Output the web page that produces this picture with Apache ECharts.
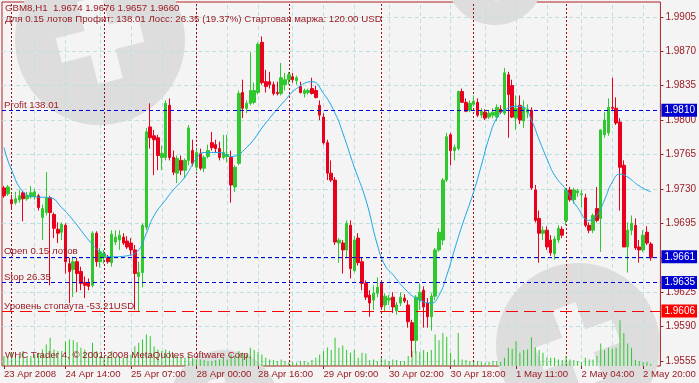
<!DOCTYPE html>
<html><head><meta charset="utf-8">
<script src="https://cdn.jsdelivr.net/npm/echarts@6/dist/echarts.min.js"></script>
<style>html,body{margin:0;padding:0;background:#f4f4f4}#c{width:699px;height:383px}</style>
</head><body><div id="c"></div><script>
// ---- data (GBM8, H1) ----
const opens = [1.9731,1.9725,1.9719,1.9716,1.9719,1.9726,1.9720,1.9722,1.9722,1.9723,
1.9701,1.9706,1.9721,1.9704,1.9689,1.9686,1.9693,1.9654,1.9648,1.9656,
1.9646,1.9635,1.9634,1.9632,1.9685,1.9656,1.9660,1.9660,1.9655,1.9676,
1.9678,1.9681,1.9677,1.9675,1.9668,1.9641,1.9645,1.9691,1.9793,1.9784,
1.9782,1.9762,1.9762,1.9815,1.9762,1.9746,1.9759,1.9749,1.9759,1.9769,
1.9752,1.9766,1.9751,1.9763,1.9777,1.9775,1.9771,1.9762,1.9763,1.9762,
1.9732,1.9756,1.9828,1.9812,1.9817,1.9818,1.9828,1.9879,1.9839,1.9839,
1.9836,1.9828,1.9827,1.9836,1.9841,1.9844,1.9840,1.9834,1.9827,1.9828,
1.9832,1.9830,1.9815,1.9803,1.9777,1.9746,1.9739,1.9675,1.9675,1.9668,
1.9693,1.9647,1.9680,1.9656,1.9634,1.9622,1.9617,1.9624,1.9634,1.9612,
1.9617,1.9620,1.9606,1.9614,1.9619,1.9612,1.9594,1.9576,1.9617,1.9627,
1.9614,1.9600,1.9621,1.9668,1.9678,1.9739,1.9785,1.9769,1.9771,1.9829,
1.9818,1.9810,1.9816,1.9818,1.9805,1.9808,1.9803,1.9805,1.9803,1.9811,
1.9807,1.9846,1.9835,1.9802,1.9815,1.9799,1.9808,1.9810,1.9729,1.9700,
1.9685,1.9688,1.9678,1.9664,1.9678,1.9689,1.9698,1.9729,1.9719,1.9726,
1.9724,1.9721,1.9693,1.9688,1.9710,1.9700,1.9785,1.9787,1.9813,1.9812,
1.9798,1.9754,1.9671,1.9688,1.9693,1.9671,1.9668,1.9686,1.9674];
const highs = [1.9733,1.9734,1.9724,1.9727,1.9729,1.9728,1.9727,1.9733,1.9730,1.9725,
1.9714,1.9747,1.9723,1.9706,1.9696,1.9696,1.9695,1.9660,1.9661,1.9660,
1.9651,1.9641,1.9639,1.9687,1.9687,1.9670,1.9668,1.9663,1.9688,1.9688,
1.9688,1.9685,1.9682,1.9680,1.9673,1.9656,1.9695,1.9792,1.9817,1.9790,
1.9785,1.9774,1.9820,1.9822,1.9769,1.9764,1.9764,1.9761,1.9795,1.9780,
1.9771,1.9771,1.9764,1.9775,1.9788,1.9780,1.9778,1.9785,1.9785,1.9769,
1.9754,1.9830,1.9841,1.9820,1.9869,1.9838,1.9879,1.9885,1.9851,1.9849,
1.9839,1.9839,1.9858,1.9848,1.9849,1.9848,1.9845,1.9839,1.9832,1.9832,
1.9843,1.9835,1.9820,1.9807,1.9780,1.9759,1.9742,1.9680,1.9678,1.9698,
1.9698,1.9682,1.9685,1.9660,1.9637,1.9627,1.9632,1.9640,1.9637,1.9624,
1.9622,1.9625,1.9615,1.9625,1.9623,1.9617,1.9597,1.9622,1.9634,1.9631,
1.9619,1.9624,1.9670,1.9690,1.9741,1.9787,1.9787,1.9775,1.9830,1.9832,
1.9822,1.9820,1.9825,1.9822,1.9812,1.9811,1.9810,1.9812,1.9816,1.9815,
1.9853,1.9849,1.9841,1.9825,1.9825,1.9820,1.9816,1.9813,1.9734,1.9708,
1.9692,1.9692,1.9683,1.9682,1.9693,1.9692,1.9731,1.9732,1.9731,1.9730,
1.9729,1.9725,1.9696,1.9705,1.9732,1.9790,1.9808,1.9822,1.9843,1.9823,
1.9802,1.9759,1.9696,1.9703,1.9700,1.9678,1.9688,1.9692,1.9676];
const lows = [1.9721,1.9723,1.9710,1.9714,1.9716,1.9697,1.9718,1.9720,1.9719,1.9708,
1.9678,1.9703,1.9632,1.9680,1.9675,1.9678,1.9644,1.9614,1.9620,1.9625,
1.9627,1.9619,1.9627,1.9630,1.9651,1.9650,1.9654,1.9654,1.9651,1.9673,
1.9668,1.9673,1.9669,1.9663,1.9607,1.9605,1.9630,1.9688,1.9771,1.9744,
1.9749,1.9749,1.9759,1.9759,1.9744,1.9736,1.9744,1.9741,1.9754,1.9753,
1.9748,1.9749,1.9747,1.9761,1.9769,1.9767,1.9759,1.9760,1.9757,1.9716,
1.9727,1.9754,1.9802,1.9807,1.9815,1.9816,1.9826,1.9836,1.9828,1.9832,
1.9825,1.9825,1.9825,1.9830,1.9836,1.9838,1.9836,1.9827,1.9823,1.9826,
1.9826,1.9822,1.9800,1.9775,1.9739,1.9737,1.9673,1.9655,1.9644,1.9660,
1.9639,1.9645,1.9652,1.9627,1.9617,1.9600,1.9607,1.9620,1.9607,1.9605,
1.9612,1.9604,1.9602,1.9611,1.9614,1.9589,1.9559,1.9563,1.9607,1.9589,
1.9589,1.9586,1.9617,1.9666,1.9673,1.9737,1.9754,1.9759,1.9769,1.9818,
1.9808,1.9808,1.9814,1.9803,1.9802,1.9800,1.9801,1.9802,1.9799,1.9806,
1.9805,1.9782,1.9802,1.9790,1.9796,1.9792,1.9802,1.9729,1.9696,1.9655,
1.9678,1.9668,1.9662,1.9658,1.9675,1.9680,1.9693,1.9717,1.9715,1.9722,
1.9711,1.9691,1.9685,1.9685,1.9696,1.9666,1.9782,1.9784,1.9810,1.9795,
1.9708,1.9671,1.9645,1.9683,1.9668,1.9655,1.9666,1.9673,1.9657];
const closes = [1.9723,1.9732,1.9715,1.9720,1.9723,1.9720,1.9723,1.9726,1.9727,1.9711,
1.9710,1.9721,1.9706,1.9690,1.9685,1.9694,1.9656,1.9646,1.9656,1.9644,
1.9634,1.9632,1.9631,1.9685,1.9656,1.9666,1.9664,1.9656,1.9684,1.9681,
1.9683,1.9675,1.9671,1.9668,1.9644,1.9645,1.9693,1.9788,1.9782,1.9780,
1.9764,1.9766,1.9817,1.9762,1.9747,1.9761,1.9749,1.9759,1.9792,1.9756,
1.9767,1.9751,1.9762,1.9769,1.9772,1.9771,1.9762,1.9767,1.9765,1.9734,
1.9752,1.9827,1.9812,1.9817,1.9830,1.9830,1.9877,1.9838,1.9834,1.9836,
1.9827,1.9827,1.9843,1.9841,1.9846,1.9841,1.9843,1.9828,1.9830,1.9830,
1.9827,1.9823,1.9805,1.9777,1.9746,1.9739,1.9676,1.9678,1.9668,1.9695,
1.9649,1.9678,1.9655,1.9634,1.9620,1.9614,1.9624,1.9630,1.9610,1.9621,
1.9619,1.9610,1.9612,1.9620,1.9616,1.9595,1.9576,1.9620,1.9625,1.9610,
1.9600,1.9621,1.9668,1.9686,1.9739,1.9783,1.9769,1.9772,1.9829,1.9818,
1.9809,1.9817,1.9819,1.9805,1.9809,1.9802,1.9807,1.9808,1.9813,1.9808,
1.9848,1.9826,1.9803,1.9812,1.9800,1.9813,1.9811,1.9731,1.9698,1.9685,
1.9688,1.9671,1.9665,1.9679,1.9690,1.9683,1.9729,1.9719,1.9729,1.9728,
1.9725,1.9693,1.9688,1.9703,1.9698,1.9790,1.9800,1.9813,1.9812,1.9797,
1.9752,1.9671,1.9688,1.9695,1.9670,1.9668,1.9683,1.9675,1.9660];
const volumes = [300,250,400,350,300,450,250,300,350,400,
500,650,850,500,450,450,750,800,780,720,
550,500,400,700,450,300,250,300,450,250,
300,250,300,350,600,700,800,950,900,600,
500,450,500,450,350,300,250,250,350,250,
200,200,180,150,150,180,200,250,200,350,
300,450,400,350,550,480,420,350,250,200,
180,150,200,150,120,120,100,150,150,120,
180,250,350,450,560,480,850,550,620,480,
400,480,250,400,380,180,200,150,250,200,
150,200,180,150,150,300,450,450,420,480,
420,480,950,780,1000,880,400,200,1000,200,
180,150,120,150,120,100,120,150,150,120,
250,550,520,750,400,480,500,870,570,480,
400,250,250,250,200,180,300,200,180,150,
120,250,200,200,300,680,480,550,520,550,
1380,1000,680,550,180,150,120,120,60];
// moving average, read at these bars
const maBars = [0,2,5,8,12,15,18,20,22,25,28,32,35,37,39,42,44,47,50,52,56,59,63,68,73,76,80,83,86,88,91,94,97,99,101,104,107,111,113,115,117,119,122,124,126,128,130,133,135,137,139,141,143,146,149,152,154,156,158,160,162,165,168];
const maValues = [1.9772,1.9749,1.9727,1.9722,1.9721,1.9711,1.9698,1.9688,1.9678,1.9666,1.9661,1.9662,1.9668,1.9685,1.9703,1.9719,1.9729,1.9742,1.9761,1.9767,1.9767,1.9763,1.9772,1.9797,1.9820,1.9832,1.9839,1.9827,1.9807,1.9787,1.9752,1.9719,1.9673,1.9652,1.9643,1.9629,1.9619,1.9614,1.9622,1.9642,1.9668,1.9693,1.9727,1.9754,1.9782,1.9802,1.9810,1.9814,1.9813,1.9800,1.9780,1.9761,1.9744,1.9729,1.9711,1.9698,1.9703,1.9719,1.9737,1.9745,1.9742,1.9733,1.9727];
// axis ticks
const xTickLabels = ['23 Apr 2008','24 Apr 14:00','25 Apr 07:00','28 Apr 00:00','28 Apr 16:00','29 Apr 09:00','30 Apr 02:00','30 Apr 18:00','1 May 11:00','2 May 04:00','2 May 20:00'];
const xTickBars = [0,16,33,50,66,83,100,116,133,150,166];
const xGridBars = [8,16,25,33,41,50,58,66,75,83,91,100,108,116,125,133,141,150,158,166];
const daySeparatorBars = [2,26,50,74,98,122,146];
const yTicks = [1.9555,1.9590,1.9625,1.9660,1.9695,1.9730,1.9765,1.9800,1.9835,1.9870,1.9905];
// trade levels
const levelNames = ['Profit 138.01','Open 0.15 лотов','Stop 26.35','Уровень стопаута -53.21USD'];
const levelPrices = [1.9810,1.9661,1.9635,1.9606];
const levelColors = ['#0000d0','#0000d0','#0000d0','#ff0000'];
const headerSymbol = 'GBM8,H1';
const headerLine2 = 'Для 0.15 лотов Профит: 138.01 Лосс: 26.35 (19.37%) Стартовая маржа: 120.00 USD';
const footerText = 'WHC Trader 4, © 2001-2008 MetaQuotes Software Corp.';

// ---- chart ----
const n = opens.length;
const categories = Array.from({length: n + 2}, (_, i) => String(i));
const candles = opens.map((o, i) => [o, closes[i], lows[i], highs[i]]);
const maData = maBars.map((b, i) => [b, maValues[i]]);
const last = n - 1;
const header1 = headerSymbol + '  ' + [opens[last], highs[last], lows[last], closes[last]].map(v => v.toFixed(4)).join(' ');
const TXT = '#9a1c24';
const FONT = 'Liberation Sans';
const GREEN = '#2fc82f', RED = '#e8001c';

const levelLines = [];
levelPrices.forEach((p, i) => {
  const ls = {color: levelColors[i], type: i === 3 ? [12, 6] : [4, 3], width: 1};
  levelLines.push({yAxis: p, lineStyle: Object.assign({}, ls),
    label: {show: true, position: 'insideStartTop', formatter: levelNames[i], color: TXT, fontSize: 9.7, fontFamily: FONT, distance: [2, 0]}});
  levelLines.push({yAxis: p, lineStyle: Object.assign({}, ls),
    label: {show: true, position: 'end', formatter: p.toFixed(4), color: '#fff', backgroundColor: levelColors[i], padding: [2, 2, 1, 3], fontSize: 10, fontFamily: FONT, distance: 1}});
});

function logo(cx, cy, r, rot) {
  return {type: 'group', x: cx, y: cy, rotation: rot, z: -5, silent: true, children: [
    {type: 'circle', shape: {cx: 0, cy: 0, r: r}, style: {fill: '#dddddd'}},
    {type: 'rect', shape: {x: -r * 0.15, y: -r * 0.5, width: r * 0.3, height: r * 1.0}, style: {fill: '#f4f4f4'}},
    {type: 'rect', shape: {x: -r * 0.5, y: -r * 0.15, width: r * 1.0, height: r * 0.3}, style: {fill: '#f4f4f4'}}
  ]};
}

const chart = echarts.init(document.getElementById('c'), null, {renderer: 'canvas'});
chart.setOption({
  animation: false,
  backgroundColor: '#f4f4f4',
  textStyle: {fontFamily: FONT},
  grid: {left: 2, top: 2, width: 659, height: 364, show: true, borderColor: '#b02020', borderWidth: 1, backgroundColor: 'transparent'},
  xAxis: {
    type: 'category', data: categories, boundaryGap: true,
    axisLine: {show: false},
    axisTick: {show: true, alignWithLabel: true, length: 3, interval: (i) => xTickBars.includes(i), lineStyle: {color: TXT}},
    axisLabel: {interval: (i) => xTickBars.includes(i), formatter: (v) => { const j = xTickBars.indexOf(Number(v)); return j >= 0 ? xTickLabels[j] : ''; }, align: 'left', color: TXT, fontSize: 9.6, fontFamily: FONT, margin: 3},
    splitLine: {show: false}
  },
  yAxis: [
    {type: 'value', min: 1.955, max: 1.992, position: 'right', axisLine: {show: false}, splitLine: {show: false},
     axisTick: {show: true, length: 3, customValues: yTicks, lineStyle: {color: TXT}},
     axisLabel: {customValues: yTicks, formatter: (v) => v.toFixed(4), color: TXT, fontSize: 10, fontFamily: FONT, margin: 5}},
    {type: 'value', min: 0, max: 11000, show: false}
  ],
  graphic: [
    logo(100, 40, 85, 0.25),
    logo(578, 345, 82, 0.35),
    logo(224, 405, 55, 0.3),
    logo(495, -25, 50, 0.3),
    {type: 'text', left: 5, top: 3, z: 10, style: {text: header1, fill: TXT, font: '9.7px ' + FONT}},
    {type: 'text', left: 5, top: 14, z: 10, style: {text: headerLine2, fill: TXT, font: '9.7px ' + FONT}},
    {type: 'text', left: 5, top: 350, z: 10, style: {text: footerText, fill: TXT, font: '9.7px ' + FONT}}
  ],
  series: [
    {type: 'line', name: 'grid', data: [], silent: true, z: 0,
     markLine: {symbol: 'none', silent: true, animation: false, precision: 4, z: 0, label: {show: false},
       lineStyle: {color: '#bfe0e0', type: [4, 3], width: 1},
       data: yTicks.map(v => ({yAxis: v})).concat(xGridBars.map(b => ({xAxis: b})))}},
    {type: 'line', name: 'sep', data: [], silent: true, z: 1,
     markLine: {symbol: 'none', silent: true, animation: false, precision: 4, z: 1, label: {show: false},
       lineStyle: {color: '#a01010', type: [2, 2], width: 1},
       data: daySeparatorBars.map(b => ({xAxis: b}))}},
    {type: 'bar', name: 'Volume', yAxisIndex: 1, data: volumes, barWidth: 1, itemStyle: {color: GREEN}, silent: true, z: 1},
    {type: 'candlestick', name: 'GBM8', data: candles, barWidth: 3, z: 3,
     itemStyle: {color: GREEN, color0: RED, borderColor: GREEN, borderColor0: RED, borderWidth: 1},
     markLine: {symbol: 'none', silent: true, animation: false, precision: 4, z: 6,
       lineStyle: {color: '#0000d0', type: [4, 3], width: 1}, data: levelLines}},
    {type: 'line', name: 'MA', data: maData, smooth: 0.5, showSymbol: false, symbol: 'none', z: 4,
     lineStyle: {color: '#1aa6e6', width: 1}}
  ]
});
</script></body></html>
